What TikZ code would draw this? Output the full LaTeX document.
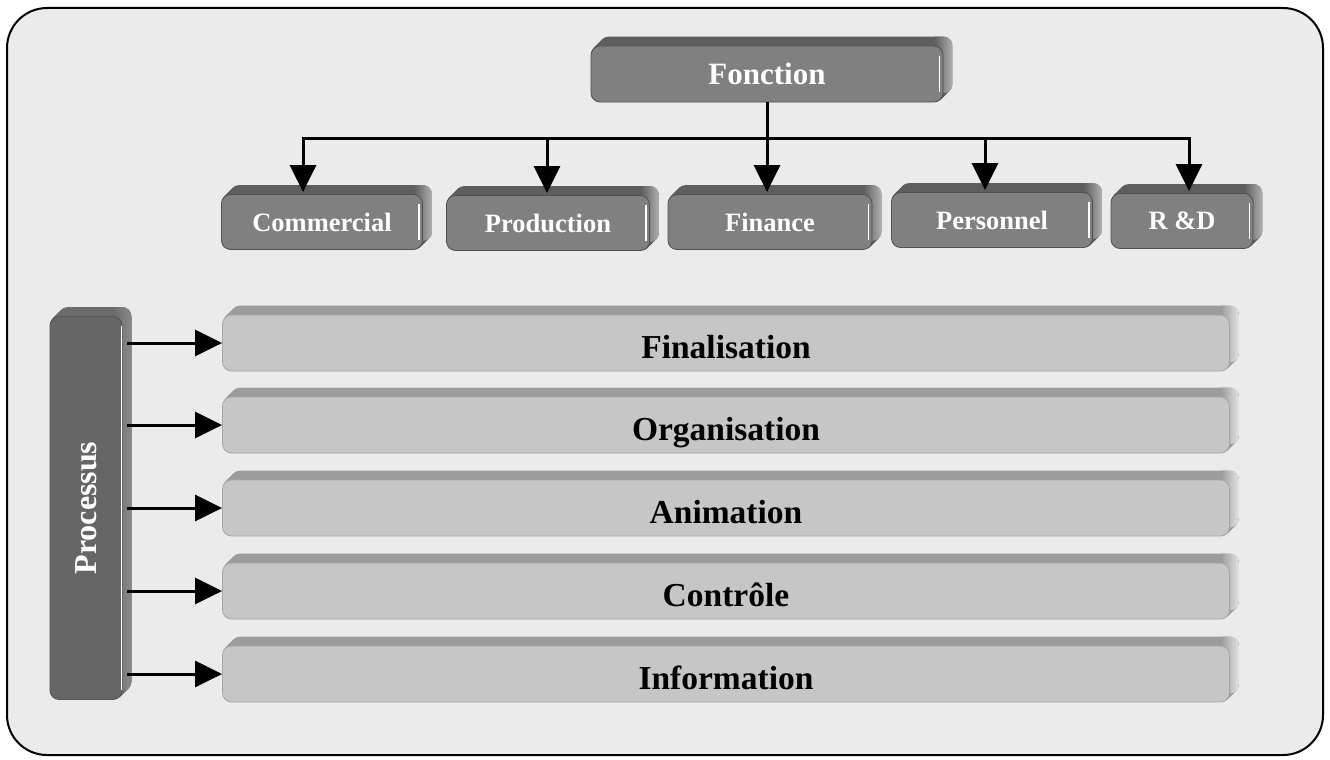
\documentclass[tikz,border=0pt]{standalone}
\usepackage{fontspec}
\setmainfont{Liberation Serif}
\usetikzlibrary{arrows.meta, calc, backgrounds}

\pgfdeclarelayer{frame}
\pgfsetlayers{frame,background,main}

\definecolor{paper}{HTML}{EBEBEB}
\definecolor{darkface}{HTML}{808080}
\definecolor{darkback}{HTML}{5E5E5E}
\definecolor{darkside}{HTML}{B0B0B0}
\definecolor{procface}{HTML}{666666}
\definecolor{procback}{HTML}{6C6C6C}
\definecolor{procside}{HTML}{8A8A8A}
\definecolor{lightface}{HTML}{C6C6C6}
\definecolor{lightback}{HTML}{9C9C9C}
\definecolor{lightside}{HTML}{E4E4E4}

\tikzset{
	box/.style = {rounded corners=9pt, inner sep=0pt, line width=0.8pt},
	dark/.style = {box, fill=darkface, draw=darkback!85!black, text=white},
	branch/.style = {minimum height=55pt, font=\bfseries\fontsize{26.5}{30}\selectfont},
	proc/.style = {box, fill=procface, draw=procback!80!black, text=white,
		font=\bfseries\fontsize{32}{36}\selectfont},
	bar/.style = {box, fill=lightface, draw=lightback!90!white, text=black,
		minimum width=1007pt, minimum height=56pt, text height=30pt, text depth=0pt,
		font=\bfseries\fontsize{33.5}{38}\selectfont},
	link/.style = {line width=3pt}
}

% back and side of a raised box
\newcommand{\extrude}[3]{
	\foreach \k in {1,...,9}
		\fill [#2, rounded corners=9pt] ($(#1.south west) + (\k pt, \k pt)$) rectangle ($(#1.north east) + (\k pt, \k pt)$);
	\begin{scope}
		\clip [rounded corners=9pt] ($(#1.south west) + (9pt, 9pt)$) rectangle ($(#1.north east) + (9pt, 9pt)$);
		\shade [left color=#2, right color=#3] ($(#1.south east) + (-9pt, 0pt)$) rectangle ($(#1.north east) + (9pt, 9pt)$);
	\end{scope}
}

\begin{document}
\begin{tikzpicture}[x = 1pt, y = -1pt, > = {Triangle[length=27pt, width=26pt]}]

	% Frame
	
	\begin{pgfonlayer}{frame}
		\fill [white] (0, 0) rectangle (1330, 760);
		\draw [line width=2pt, fill=paper, rounded corners=40pt] (7, 8) rectangle (1323, 755);
	\end{pgfonlayer}
	\useasboundingbox (0, 0) rectangle (1330, 760);
	
	% Fonction and its branches
	
	\node [dark, minimum width=352pt, minimum height=56pt, font=\bfseries\fontsize{31}{36}\selectfont] (fonction) at (767, 74) {Fonction};
	
	\node [dark, branch, minimum width=201pt] (commercial) at (322, 222) {Commercial};
	\node [dark, branch, minimum width=203pt] (production) at (548, 223) {Production};
	\node [dark, branch, minimum width=204pt] (finance) at (770, 222) {Finance};
	\node [dark, branch, minimum width=201pt] (personnel) at (992, 220) {Personnel};
	\node [dark, branch, minimum width=142pt] (rd) at (1182, 221) {R \&D};
	
	% Processus and its steps
	
	\node [proc, minimum width=72pt, minimum height=383pt] (processus) at (86, 508) {\rotatebox{90}{Processus}};
	
	\node [bar] (finalisation) at (726, 343) {Finalisation};
	\node [bar] (organisation) at (726, 425) {Organisation};
	\node [bar] (animation) at (726, 508) {Animation};
	\node [bar] (controle) at (726, 591) {Contrôle};
	\node [bar] (information) at (726, 674) {Information};
	
	% Raised look
	
	\begin{pgfonlayer}{background}
		\foreach \n in {fonction, commercial, production, finance, personnel, rd}
			\extrude{\n}{darkback}{darkside};
		\extrude{processus}{procback}{procside};
		\foreach \n in {finalisation, organisation, animation, controle, information}
			\extrude{\n}{lightback}{lightside};
	\end{pgfonlayer}
	
	\foreach \n/\d in {fonction/-4, commercial/-4, production/-4, finance/-4, personnel/-4, rd/-4, processus/-1}
		\draw [white, line width=1.2pt] ([xshift=\d pt, yshift=-10pt] \n.north east) -- ([xshift=\d pt, yshift=10pt] \n.south east);
	
	% Tree of functions
	
	\coordinate (bus) at (0, 138);
	
	\begin{scope}[link]
	
		\draw (fonction.south) -- (fonction.south |- bus);
		\draw [line cap=rect] ([xshift=-19pt] commercial.north |- bus) -- ([xshift=7pt] rd.north |- bus);
		\foreach \n/\d in {commercial/-19, production/-1, finance/-3, personnel/-7, rd/7}
			\draw [->] ([xshift=\d pt] \n.north |- bus) -- ([xshift=\d pt, yshift=2pt] \n.north);
		
		% Steps of the process
		
		\foreach \n in {finalisation, organisation, animation, controle, information}
			\draw [->] ([xshift=5pt] processus.east |- \n.west) -- (\n.west);
		
	\end{scope}
		
\end{tikzpicture}
\end{document}
